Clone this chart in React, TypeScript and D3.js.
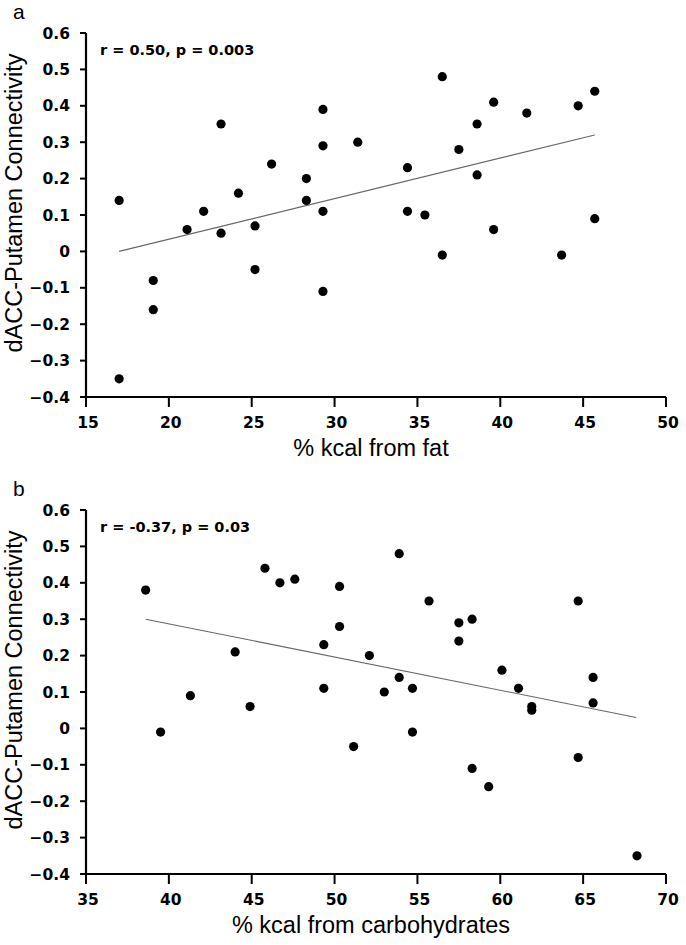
import React from "react";
import * as d3 from "d3";

const fatX = [17.0, 21.1, 22.1, 23.15, 23.15, 24.2, 25.2, 26.2, 28.3, 28.3, 29.3, 29.3, 29.3, 31.4, 34.4, 34.4, 35.45, 36.5, 37.5, 38.6, 38.6, 39.6, 39.6, 41.6, 44.7, 45.7, 45.7, 19.06, 19.06, 25.2, 29.3, 36.5, 43.7, 17.0];
const fatY = [0.14, 0.06, 0.11, 0.35, 0.05, 0.16, 0.07, 0.24, 0.2, 0.14, 0.39, 0.29, 0.11, 0.3, 0.23, 0.11, 0.1, 0.48, 0.28, 0.35, 0.21, 0.41, 0.06, 0.38, 0.4, 0.44, 0.09, -0.08, -0.16, -0.05, -0.11, -0.01, -0.01, -0.35];

const carbX = [38.6, 41.3, 44.0, 45.8, 46.7, 47.6, 49.35, 49.35, 50.3, 50.3, 52.1, 53.0, 53.9, 53.9, 54.7, 55.7, 57.5, 57.5, 58.3, 60.1, 61.1, 64.7, 65.6, 39.5, 44.9, 51.15, 54.7, 58.3, 59.3, 61.9, 61.9, 65.6, 64.7, 68.25];
const carbY = [0.38, 0.09, 0.21, 0.44, 0.4, 0.41, 0.23, 0.11, 0.39, 0.28, 0.2, 0.1, 0.48, 0.14, 0.11, 0.35, 0.29, 0.24, 0.3, 0.16, 0.11, 0.35, 0.14, -0.01, 0.06, -0.05, -0.01, -0.11, -0.16, 0.06, 0.05, 0.07, -0.08, -0.35];

const fatTrendX = [17.0, 45.7];
const fatTrendY = [0.0, 0.32];
const carbTrendX = [38.6, 68.2];
const carbTrendY = [0.3, 0.03];

const yTicks = [-0.4, -0.3, -0.2, -0.1, 0, 0.1, 0.2, 0.3, 0.4, 0.5, 0.6];
const fatTicks = [15, 20, 25, 30, 35, 40, 45, 50];
const carbTicks = [35, 40, 45, 50, 55, 60, 65, 70];

const yTitle = "dACC-Putamen Connectivity";

type PanelProps = {
  top: number;
  letter: string;
  xs: number[];
  ys: number[];
  tx: number[];
  ty: number[];
  xTicks: number[];
  xTitle: string;
  stat: string;
};

const tickFont = "'DejaVu Sans', sans-serif";
const titleFont = "'Liberation Sans', Arial, sans-serif";

function Panel({ top, letter, xs, ys, tx, ty, xTicks, xTitle, stat }: PanelProps) {
  const left = 86;
  const right = 666;
  const plotTop = top;
  const plotBottom = top + 364;
  const x = d3.scaleLinear().domain([xTicks[0], xTicks[xTicks.length - 1]]).range([left, right]);
  const y = d3.scaleLinear().domain([-0.4, 0.6]).range([plotBottom, plotTop]);
  const line = d3
    .line<number>()
    .x((_, i) => x(tx[i]))
    .y((_, i) => y(ty[i]));
  const fmtY = (v: number) => (v === 0 ? "0" : d3.format(".1f")(v));
  return (
    <g>
      <text x={13} y={top - 14} fontFamily={titleFont} fontSize={21}>
        {letter}
      </text>
      <path d={line(tx) || ""} fill="none" stroke="#666" strokeWidth={1.1} />
      {xs.map((v, i) => (
        <circle key={i} cx={x(v)} cy={y(ys[i])} r={4.6} fill="#000" />
      ))}
      <line x1={left} x2={left} y1={plotTop} y2={plotBottom} stroke="#000" strokeWidth={2.2} />
      <line x1={left} x2={right} y1={plotBottom} y2={plotBottom} stroke="#000" strokeWidth={2.2} />
      {yTicks.map((t) => (
        <g key={"y" + t}>
          <line x1={left - 6} x2={left} y1={y(t)} y2={y(t)} stroke="#000" strokeWidth={2} />
          <text
            x={left - 16}
            y={y(t)}
            dy="0.36em"
            textAnchor="end"
            fontFamily={tickFont}
            fontWeight="bold"
            fontSize={15.5}
          >
            {fmtY(t)}
          </text>
        </g>
      ))}
      {xTicks.map((t) => (
        <g key={"x" + t}>
          <line x1={x(t)} x2={x(t)} y1={plotBottom} y2={plotBottom + 10} stroke="#000" strokeWidth={2} />
          <text
            x={x(t) + 2}
            y={plotBottom + 31}
            textAnchor="middle"
            fontFamily={tickFont}
            fontWeight="bold"
            fontSize={15.5}
          >
            {t}
          </text>
        </g>
      ))}
      <text x={100} y={plotTop + 22} fontFamily={tickFont} fontWeight="bold" fontSize={14.5}>
        {stat}
      </text>
      <text
        x={(left + right) / 2 - 5}
        y={plotBottom + 59}
        textAnchor="middle"
        fontFamily={titleFont}
        fontSize={23.5}
      >
        {xTitle}
      </text>
      <text
        transform={`translate(22,${(plotTop + plotBottom) / 2 - 12}) rotate(-90)`}
        textAnchor="middle"
        fontFamily={titleFont}
        fontSize={23.5}
      >
        {yTitle}
      </text>
    </g>
  );
}

export default function App() {
  return (
    <svg
      width={686}
      height={945}
      viewBox="0 0 686 945"
      style={{ position: "absolute", left: 0, top: 0, background: "#fff" }}
    >
      <rect width={686} height={945} fill="#fff" />
      <Panel
        top={33}
        letter="a"
        xs={fatX}
        ys={fatY}
        tx={fatTrendX}
        ty={fatTrendY}
        xTicks={fatTicks}
        xTitle="% kcal from fat"
        stat="r = 0.50, p = 0.003"
      />
      <Panel
        top={510}
        letter="b"
        xs={carbX}
        ys={carbY}
        tx={carbTrendX}
        ty={carbTrendY}
        xTicks={carbTicks}
        xTitle="% kcal from carbohydrates"
        stat="r = -0.37, p = 0.03"
      />
    </svg>
  );
}
